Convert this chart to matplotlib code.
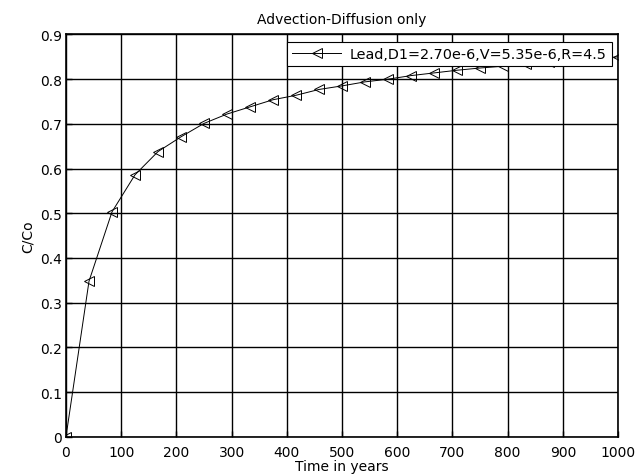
import matplotlib
matplotlib.use("Agg")
import matplotlib.pyplot as plt

# time (years) and relative concentration
time_years = [0, 41.7, 83.3, 125, 166.7, 208.3, 250, 291.7, 333.3, 375, 416.7,
              458.3, 500, 541.7, 583.3, 625, 666.7, 708.3, 750, 791.7, 833.3,
              875, 916.7, 958.3, 1000]
c_over_co = [0.0, 0.348, 0.503, 0.586, 0.638, 0.671, 0.701, 0.722, 0.738,
             0.754, 0.764, 0.777, 0.785, 0.794, 0.800, 0.808, 0.814, 0.820,
             0.825, 0.829, 0.834, 0.838, 0.842, 0.846, 0.850]
series_label = "Lead,D1=2.70e-6,V=5.35e-6,R=4.5"
xticks = list(range(0, 1001, 100))
yticks = [0, 0.1, 0.2, 0.3, 0.4, 0.5, 0.6, 0.7, 0.8, 0.9]
yticklabels = ["0", "0.1", "0.2", "0.3", "0.4", "0.5", "0.6", "0.7", "0.8", "0.9"]

plt.rcParams['font.family'] = ['DejaVu Sans']
fs = 10

fig = plt.figure(figsize=(6.37, 4.77), dpi=100)
ax = fig.add_axes([0.1036, 0.0824, 0.8666, 0.8432])

ax.plot(time_years, c_over_co, color="black", lw=0.7, marker="<", ms=7.5,
        mfc="none", mec="black", mew=0.7, label=series_label)

ax.set_xlim(0, 1000)
ax.set_ylim(0, 0.9)
ax.set_xticks(xticks)
ax.set_yticks(yticks)
ax.set_yticklabels(yticklabels)
ax.grid(True, color="black", lw=1.0, ls="-")
ax.set_axisbelow(True)
for sp in ax.spines.values():
    sp.set_linewidth(1.2)
ax.tick_params(direction="in", length=4, width=1, labelsize=fs)
ax.tick_params(axis="x", pad=6)
ax.tick_params(axis="y", pad=3)

ax.set_title("Advection-Diffusion only", fontsize=fs, pad=8)
ax.set_xlabel("Time in years", fontsize=fs, labelpad=0)
ax.set_ylabel("C/Co", fontsize=fs, labelpad=4)

leg = ax.legend(loc="upper right", bbox_to_anchor=(0.9886, 0.981),
                borderaxespad=0, fancybox=False, framealpha=1,
                edgecolor="black", fontsize=10.4, handlelength=3.4,
                borderpad=0.35, handletextpad=0.6)
leg.get_frame().set_linewidth(0.8)

fig.savefig("out.png", dpi=100)
